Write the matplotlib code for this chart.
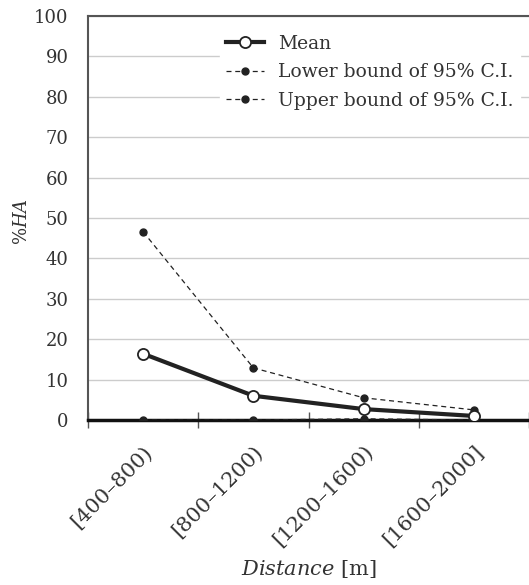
import matplotlib
matplotlib.use('Agg')
import matplotlib.pyplot as plt

# data
categories = ['[400–800)', '[800–1200)', '[1200–1600)', '[1600–2000]']
mean = [16.4, 6.0, 2.7, 1.0]
lower = [0.0, 0.0, 0.3, 0.0]
upper = [46.6, 12.9, 5.5, 2.5]
yticks = [0, 10, 20, 30, 40, 50, 60, 70, 80, 90, 100]

plt.rcParams['font.family'] = ['DejaVu Serif']
plt.rcParams['mathtext.fontset'] = 'dejavuserif'

fig = plt.figure(figsize=(5.29, 5.85), dpi=100)
ax = fig.add_axes([88 / 529, 1 - 420 / 585, 441 / 529, 404 / 585])

x = list(range(len(categories)))

ax.plot(x, mean, color='#222222', lw=3, marker='o', ms=8,
        mfc='white', mec='#222222', mew=1.3, label='Mean', zorder=5)
ax.plot(x, lower, color='#222222', lw=0.9, ls=(0, (4, 3)), marker='o', ms=5,
        label='Lower bound of 95% C.I.', zorder=4)
ax.plot(x, upper, color='#222222', lw=0.9, ls=(0, (4, 3)), marker='o', ms=5,
        label='Upper bound of 95% C.I.', zorder=4)

ax.set_xlim(-0.5, len(categories) - 0.5)
ax.set_ylim(0, 100)
ax.set_yticks(yticks)
ax.yaxis.grid(True, color='#cccccc', lw=1)
ax.set_axisbelow(True)

# ticks on category boundaries, labels at category centres
ax.set_xticks([i - 0.5 for i in range(len(categories) + 1)])
ax.set_xticklabels([])
ax.set_xticks(x, minor=True)
ax.set_xticklabels(categories, minor=True, rotation=45, ha='right',
                   rotation_mode='anchor', fontsize=15, color='#333333')
ax.tick_params(axis='x', which='major', direction='inout', length=12,
               width=1, color='#555555')
ax.tick_params(axis='x', which='minor', length=0, pad=16)
ax.tick_params(axis='y', length=0, pad=14, labelsize=13, labelcolor='#333333')

ax.spines['right'].set_visible(False)
ax.spines['top'].set_color('#555555')
ax.spines['top'].set_linewidth(1.5)
ax.spines['left'].set_color('#555555')
ax.spines['left'].set_linewidth(1.5)
ax.spines['bottom'].set_color('#111111')
ax.spines['bottom'].set_linewidth(2.5)

ax.set_ylabel(r'%$\mathit{HA}$', fontsize=13, color='#333333')
ax.yaxis.set_label_coords(-0.13, 0.49)
ax.set_xlabel(r'$\mathit{Distance}$ [m]', fontsize=15, color='#333333')
ax.xaxis.set_label_coords(0.5, -0.342)

leg = ax.legend(loc='upper right', bbox_to_anchor=(1.0, 0.99), frameon=True,
                fontsize=13.5, handlelength=2.0, handletextpad=0.8,
                labelspacing=0.55, borderpad=0.3)
leg.get_frame().set_edgecolor('white')
leg.get_frame().set_facecolor('white')
leg.get_frame().set_alpha(1)
for t in leg.get_texts():
    t.set_color('#333333')

fig.savefig('out.png', dpi=100)
